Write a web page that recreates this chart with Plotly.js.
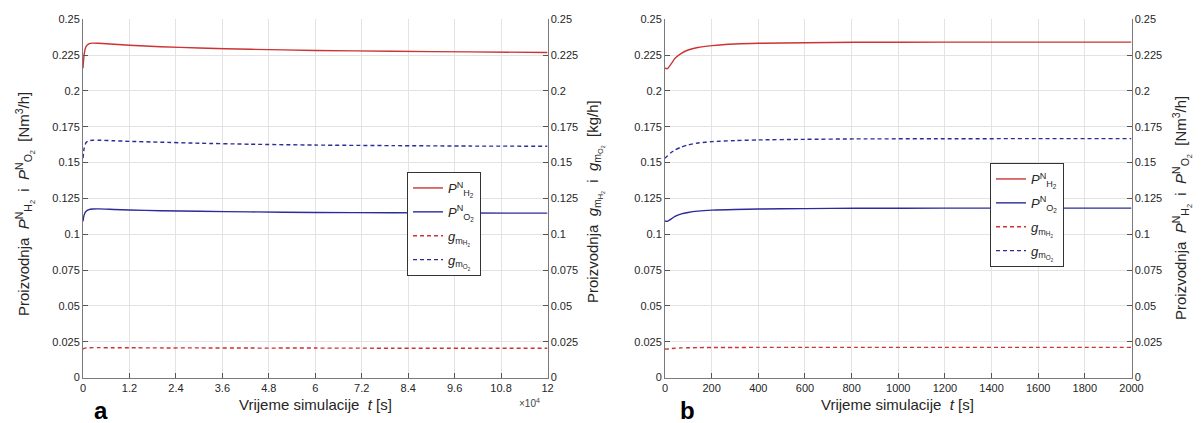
<!DOCTYPE html>
<html>
<head>
<meta charset="utf-8">
<script src="https://cdn.plot.ly/plotly-3.0.1.min.js"></script>
<style>html,body{margin:0;padding:0;background:#fff;}#chart{width:1204px;height:423px;}</style>
</head>
<body>
<div id="chart"></div>
<script>
// ---- data ----
const tA = [0, 300, 800, 1500, 2500, 4000, 8000, 12000, 20000, 30000, 43200, 60000, 80000, 100000, 120000];
const pH2A = [0.2158, 0.2255, 0.2310, 0.2328, 0.2333, 0.2332, 0.2325, 0.2318, 0.2308, 0.2299, 0.2290, 0.2282, 0.2276, 0.2272, 0.2268];
const pO2A = [0.1090, 0.1135, 0.1160, 0.1172, 0.1176, 0.1177, 0.1173, 0.1169, 0.1164, 0.1160, 0.1156, 0.1152, 0.1150, 0.1148, 0.1147];
const gH2A = [0.0199, 0.0204, 0.0207, 0.0208, 0.0209, 0.0209, 0.0208, 0.0208, 0.0207, 0.0207, 0.0206, 0.0206, 0.0205, 0.0205, 0.0205];
const gO2A = [0.1530, 0.1600, 0.1640, 0.1652, 0.1656, 0.1656, 0.1652, 0.1648, 0.1642, 0.1635, 0.1628, 0.1622, 0.1618, 0.1615, 0.1614];

const tB = [0, 10, 25, 43, 70, 99, 140, 202, 300, 400, 600, 818, 1200, 1600, 2000];
const pH2B = [0.2158, 0.2155, 0.2185, 0.2227, 0.2262, 0.2285, 0.2303, 0.2316, 0.2327, 0.2332, 0.2336, 0.2339, 0.2340, 0.2340, 0.2340];
const pO2B = [0.1093, 0.1090, 0.1105, 0.1125, 0.1142, 0.1152, 0.1161, 0.1168, 0.1173, 0.1176, 0.1179, 0.1181, 0.1182, 0.1182, 0.1182];
const gH2B = [0.0199, 0.0199, 0.0202, 0.0205, 0.0207, 0.0208, 0.0209, 0.0210, 0.0210, 0.0211, 0.0211, 0.0211, 0.0211, 0.0211, 0.0211];
const gO2B = [0.1530, 0.1545, 0.1568, 0.1588, 0.1608, 0.1623, 0.1636, 0.1646, 0.1653, 0.1658, 0.1662, 0.1665, 0.1666, 0.1667, 0.1667];

const xTickValsA = [0, 12000, 24000, 36000, 48000, 60000, 72000, 84000, 96000, 108000, 120000];
const xTickTextA = ['0', '1.2', '2.4', '3.6', '4.8', '6', '7.2', '8.4', '9.6', '10.8', '12'];
const xTickValsB = [0, 200, 400, 600, 800, 1000, 1200, 1400, 1600, 1800, 2000];
const yTickVals = [0, 0.025, 0.05, 0.075, 0.1, 0.125, 0.15, 0.175, 0.2, 0.225, 0.25];
const yTickText = ['0', '0.025', '0.05', '0.075', '0.1', '0.125', '0.15', '0.175', '0.2', '0.225', '0.25'];

const seriesNames = [
  '<i>P</i><sup>N</sup><sub>H<sub>2</sub></sub>',
  '<i>P</i><sup>N</sup><sub>O<sub>2</sub></sub>',
  '<i>g</i><sub>m<sub>H<sub>2</sub></sub></sub>',
  '<i>g</i><sub>m<sub>O<sub>2</sub></sub></sub>'
];

// ---- styles ----
const RED = '#cc3333';
const BLUE = '#2b2b9c';
const FONT = 'Liberation Sans, Arial, sans-serif';
const TXT = '#262626';

function tr(x, y, name, color, dash, xa, ya, leg, grp) {
  return {x: x, y: y, name: name, type: 'scatter', mode: 'lines',
    line: {color: color, width: 1.4, dash: dash, shape: 'spline', smoothing: 0.6},
    xaxis: xa, yaxis: ya, legend: leg, legendgroup: grp, hoverinfo: 'skip'};
}

const traces = [
  tr(tA, pH2A, seriesNames[0], RED, 'solid', 'x', 'y', 'legend', 'a1'),
  tr(tA, pO2A, seriesNames[1], BLUE, 'solid', 'x', 'y', 'legend', 'a2'),
  tr(tA, gH2A, seriesNames[2], RED, '4px,3px', 'x', 'y2', 'legend', 'a3'),
  tr(tA, gO2A, seriesNames[3], BLUE, '4px,3px', 'x', 'y2', 'legend', 'a4'),
  tr(tB, pH2B, seriesNames[0], RED, 'solid', 'x2', 'y4', 'legend2', 'b1'),
  tr(tB, pO2B, seriesNames[1], BLUE, 'solid', 'x2', 'y4', 'legend2', 'b2'),
  tr(tB, gH2B, seriesNames[2], RED, '4px,3px', 'x2', 'y3', 'legend2', 'b3'),
  tr(tB, gO2B, seriesNames[3], BLUE, '4px,3px', 'x2', 'y3', 'legend2', 'b4')
];

const W = 1204, H = 423;
const plotTop = 19.2, plotBot = 377.6;
const yDom = [(H - plotBot) / H, (H - plotTop) / H];
const axA = [83 / W, 547.5 / W];
const axB = [665 / W, 1131.5 / W];

const tickFont = {family: FONT, size: 11, color: TXT};
const baseX = {showgrid: true, gridcolor: '#e3e3e3', gridwidth: 1, zeroline: false,
  showline: true, linecolor: '#7a7a7a', linewidth: 1, ticks: 'inside', ticklen: 5,
  tickcolor: '#555', tickfont: tickFont, mirror: false};
const baseY = Object.assign({}, baseX, {range: [0, 0.25], tickvals: yTickVals, ticktext: yTickText});

const legFont = {family: FONT, size: 13, color: TXT};
const titleFont = {family: FONT, size: 15, color: TXT};

const layout = {
  width: W, height: H,
  margin: {l: 0, r: 0, t: 0, b: 0},
  paper_bgcolor: '#fff', plot_bgcolor: '#fff',
  font: {family: FONT, color: TXT},
  xaxis: Object.assign({}, baseX, {domain: axA, range: [0, 120000], tickvals: xTickValsA, ticktext: xTickTextA, anchor: 'y'}),
  xaxis2: Object.assign({}, baseX, {domain: axB, range: [0, 2000], tickvals: xTickValsB, ticktext: xTickValsB.map(String), anchor: 'y3'}),
  yaxis: Object.assign({}, baseY, {domain: yDom, anchor: 'x', side: 'left'}),
  yaxis2: Object.assign({}, baseY, {domain: yDom, anchor: 'x', overlaying: 'y', side: 'right', showgrid: false}),
  yaxis3: Object.assign({}, baseY, {domain: yDom, anchor: 'x2', side: 'left'}),
  yaxis4: Object.assign({}, baseY, {domain: yDom, anchor: 'x2', overlaying: 'y3', side: 'right', showgrid: false}),
  legend: {x: 407 / W, y: (H - 172) / H, xanchor: 'left', yanchor: 'top',
    bgcolor: '#fff', bordercolor: '#333', borderwidth: 1,
    font: legFont, tracegroupgap: 4, traceorder: 'grouped'},
  legend2: {x: 990 / W, y: (H - 163) / H, xanchor: 'left', yanchor: 'top',
    bgcolor: '#fff', bordercolor: '#333', borderwidth: 1,
    font: legFont, tracegroupgap: 4, traceorder: 'grouped'},
  showlegend: true,
  annotations: [
    {text: 'Proizvodnja  <i>P</i><sup>N</sup><sub>H<sub>2</sub></sub>  i  <i>P</i><sup>N</sup><sub>O<sub>2</sub></sub>  [Nm<sup>3</sup>/h]',
     xref: 'paper', yref: 'paper', x: 25 / W, y: (H - 204) / H, textangle: -90, showarrow: false,
     xanchor: 'center', yanchor: 'middle', font: titleFont},
    {text: 'Proizvodnja  <i>g</i><sub>m<sub>H<sub>2</sub></sub></sub>  i  <i>g</i><sub>m<sub>O<sub>2</sub></sub></sub>  [kg/h]',
     xref: 'paper', yref: 'paper', x: 595 / W, y: (H - 202) / H, textangle: -90, showarrow: false,
     xanchor: 'center', yanchor: 'middle', font: titleFont},
    {text: 'Proizvodnja  <i>P</i><sup>N</sup><sub>H<sub>2</sub></sub>  i  <i>P</i><sup>N</sup><sub>O<sub>2</sub></sub>  [Nm<sup>3</sup>/h]',
     xref: 'paper', yref: 'paper', x: 1182 / W, y: (H - 208) / H, textangle: -90, showarrow: false,
     xanchor: 'center', yanchor: 'middle', font: titleFont},
    {text: 'Vrijeme simulacije  <i>t</i> [s]', xref: 'paper', yref: 'paper',
     x: 315 / W, y: (H - 404) / H, showarrow: false, xanchor: 'center', yanchor: 'middle',
     font: titleFont},
    {text: 'Vrijeme simulacije  <i>t</i> [s]', xref: 'paper', yref: 'paper',
     x: 898 / W, y: (H - 404) / H, showarrow: false, xanchor: 'center', yanchor: 'middle',
     font: titleFont},
    {text: '×10<sup>4</sup>', xref: 'paper', yref: 'paper',
     x: 529 / W, y: (H - 403) / H, showarrow: false, xanchor: 'center', yanchor: 'middle',
     font: {family: FONT, size: 10, color: '#444'}},
    {text: '<b>a</b>', xref: 'paper', yref: 'paper',
     x: 101 / W, y: (H - 410) / H, showarrow: false, xanchor: 'center', yanchor: 'middle',
     font: {family: FONT, size: 24, color: '#000'}},
    {text: '<b>b</b>', xref: 'paper', yref: 'paper',
     x: 687 / W, y: (H - 410) / H, showarrow: false, xanchor: 'center', yanchor: 'middle',
     font: {family: FONT, size: 24, color: '#000'}}
  ]
};

Plotly.newPlot('chart', traces, layout, {staticPlot: true, displayModeBar: false});
</script>
</body>
</html>
